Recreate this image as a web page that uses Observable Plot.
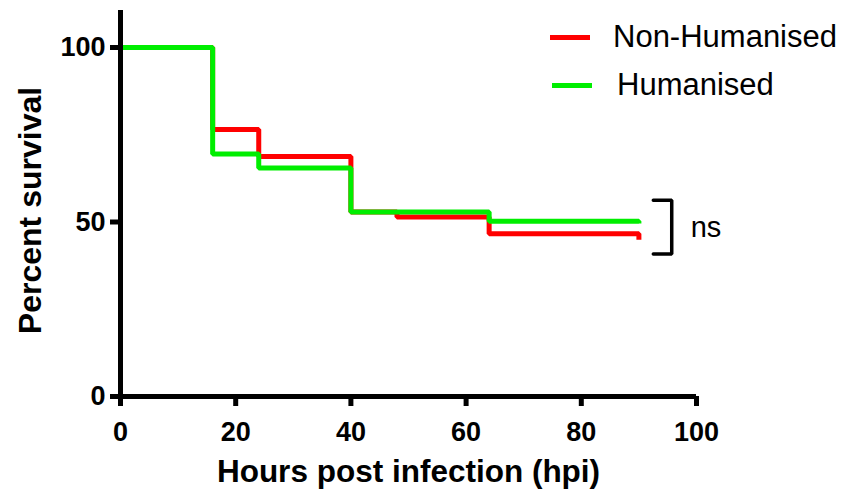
<!DOCTYPE html>
<html><head><meta charset="utf-8">
<script src="https://cdn.jsdelivr.net/npm/d3@7"></script>
<script src="https://cdn.jsdelivr.net/npm/@observablehq/plot@0.6"></script>
<style>
html,body{margin:0;padding:0;background:#fff;}
#wrap{position:relative;width:849px;height:497px;font-family:"Liberation Sans",Arial,sans-serif;}
.leg{position:absolute;display:flex;align-items:center;height:40px;font-size:31px;color:#000;white-space:nowrap;}
.sw{width:40px;height:5px;}
</style></head><body><div id="wrap"></div>
<script>
const groups = ["Non-Humanised", "Humanised"];
const colors = ["#ff0000", "#00ee00"];
const nonHumHours = [0, 16, 24, 40, 48, 64, 90, 90];
const nonHumSurvival = [100, 76.5, 68.8, 52.9, 51.4, 46.6, 46.6, 44.9];
const humHours = [0, 16, 24, 40, 64, 90, 90];
const humSurvival = [100, 69.5, 65.5, 52.9, 50.2, 50.2, 49.6];
const xTicks = [0, 20, 40, 60, 80, 100];
const yTicks = [0, 50, 100];
const xTitle = "Hours post infection (hpi)";
const yTitle = "Percent survival";
const sigLabel = "ns";
const bracketHours = [92.5, 95.7, 95.7, 92.5];
const bracketSurvival = [56.2, 56.2, 40.8, 40.8];

const font = '"Liberation Sans", Arial, sans-serif';
const nonHum = nonHumHours.map((h, i) => ({hours: h, survival: nonHumSurvival[i]}));
const hum = humHours.map((h, i) => ({hours: h, survival: humSurvival[i]}));
const bracket = bracketHours.map((h, i) => ({hours: h, survival: bracketSurvival[i]}));
const yTop = 110.6;
// tick length of 10px expressed in data units (x: 5.76 px/unit, y: 3.49 px/unit)
const xTickLen = 10 / 3.49;
const yTickLen = 10 / 5.76;

const chart = Plot.plot({
  width: 849,
  height: 497,
  marginLeft: 120,
  marginRight: 153,
  marginTop: 10,
  marginBottom: 101,
  style: {fontFamily: font, background: "white", color: "black", overflow: "visible"},
  x: {domain: [0, 100], label: null},
  y: {domain: [0, yTop], label: null},
  marks: [
    Plot.line(nonHum, {x: "hours", y: "survival", curve: "step-after", stroke: colors[0], strokeWidth: 5, strokeLinejoin: "miter", strokeLinecap: "butt"}),
    Plot.line(hum, {x: "hours", y: "survival", curve: "step-after", stroke: colors[1], strokeWidth: 5, strokeLinejoin: "miter", strokeLinecap: "butt"}),
    Plot.ruleX([{x: 0, y1: 0, y2: yTop}], {x: "x", y1: "y1", y2: "y2", stroke: "black", strokeWidth: 5}),
    Plot.ruleY([{y: 0, x1: 0, x2: 100}], {y: "y", x1: "x1", x2: "x2", stroke: "black", strokeWidth: 5}),
    Plot.ruleX(xTicks, {x: d => d, y1: () => 0, y2: () => -xTickLen, stroke: "black", strokeWidth: 5}),
    Plot.ruleY(yTicks, {y: d => d, x1: () => 0, x2: () => -yTickLen, stroke: "black", strokeWidth: 5}),
    Plot.axisX({ticks: xTicks, tickSize: 0, tickPadding: 25, fontSize: 27, fontWeight: "bold", label: null, tickFormat: d => String(d)}),
    Plot.axisY({ticks: yTicks, tickSize: 0, tickPadding: 15, fontSize: 27, fontWeight: "bold", label: null, tickFormat: d => String(d)}),
    Plot.text([xTitle], {frameAnchor: "bottom", textAnchor: "middle", dy: 85, fontSize: 31.5, fontWeight: "bold", fill: "black"}),
    Plot.text([yTitle], {frameAnchor: "left", textAnchor: "middle", rotate: -90, dx: -90, dy: 7, fontSize: 32, fontWeight: "bold", fill: "black"}),
    Plot.line(bracket, {x: "hours", y: "survival", stroke: "black", strokeWidth: 3.5, strokeLinejoin: "miter"}),
    Plot.text([{hours: 99, survival: 48.4, label: sigLabel}], {x: "hours", y: "survival", text: "label", textAnchor: "start", fontSize: 29, fill: "black"})
  ]
});

const wrap = document.getElementById("wrap");
wrap.appendChild(chart);
const legendPos = [{left: 550, top: 17, gap: 23}, {left: 552, top: 65, gap: 25}];
groups.forEach((g, i) => {
  const row = document.createElement("div");
  row.className = "leg";
  row.style.left = legendPos[i].left + "px";
  row.style.top = legendPos[i].top + "px";
  const sw = document.createElement("div");
  sw.className = "sw";
  sw.style.background = colors[i];
  sw.style.marginRight = legendPos[i].gap + "px";
  const tx = document.createElement("span");
  tx.textContent = g;
  row.appendChild(sw);
  row.appendChild(tx);
  wrap.appendChild(row);
});
</script>
</body></html>
